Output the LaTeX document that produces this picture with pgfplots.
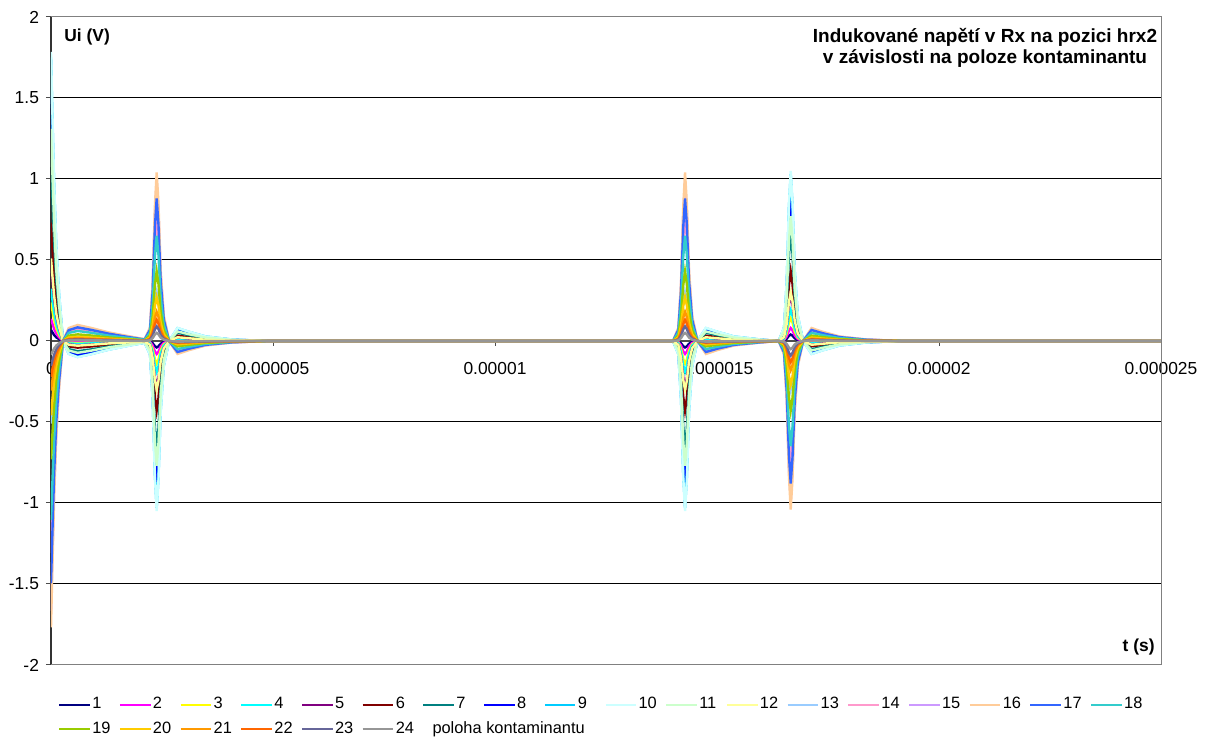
\documentclass[border=0pt]{standalone}
\usepackage{pgfplots}
\pgfplotsset{compat=1.18}
\usepackage{pgfplotstable}
\usepackage{fontspec}
\setmainfont{Liberation Sans}

\definecolor{c1}{HTML}{000080}
\definecolor{c2}{HTML}{FF00FF}
\definecolor{c3}{HTML}{FFFF00}
\definecolor{c4}{HTML}{00FFFF}
\definecolor{c5}{HTML}{800080}
\definecolor{c6}{HTML}{800000}
\definecolor{c7}{HTML}{008080}
\definecolor{c8}{HTML}{0000FF}
\definecolor{c9}{HTML}{00CCFF}
\definecolor{c10}{HTML}{CCFFFF}
\definecolor{c11}{HTML}{CCFFCC}
\definecolor{c12}{HTML}{FFFF99}
\definecolor{c13}{HTML}{99CCFF}
\definecolor{c14}{HTML}{FF99CC}
\definecolor{c15}{HTML}{CC99FF}
\definecolor{c16}{HTML}{FFCC99}
\definecolor{c17}{HTML}{3366FF}
\definecolor{c18}{HTML}{33CCCC}
\definecolor{c19}{HTML}{99CC00}
\definecolor{c20}{HTML}{FFCC00}
\definecolor{c21}{HTML}{FF9900}
\definecolor{c22}{HTML}{FF6600}
\definecolor{c23}{HTML}{666699}
\definecolor{c24}{HTML}{969696}

\pgfplotstableread{
t s1 s2 s3 s4 s5 s6 s7 s8 s9 s10 s11 s12 s13 s14 s15 s16 s17 s18 s19 s20 s21 s22 s23 s24
0 0.068 0.136 0.238 0.323 0.476 0.731 1.122 1.513 1.751 1.785 1.309 0.51 -0.51 -1.309 -1.666 -1.768 -1.496 -1.105 -0.731 -0.459 -0.306 -0.221 -0.153 -0.085
0.03e-6 0.054 0.109 0.19 0.258 0.381 0.585 0.898 1.21 1.401 1.428 1.047 0.408 -0.408 -1.047 -1.333 -1.414 -1.197 -0.884 -0.585 -0.367 -0.245 -0.177 -0.122 -0.068
0.07e-6 0.037 0.075 0.131 0.178 0.262 0.402 0.617 0.832 0.963 0.982 0.72 0.281 -0.281 -0.72 -0.916 -0.972 -0.823 -0.608 -0.402 -0.252 -0.168 -0.122 -0.084 -0.047
0.12e-6 0.022 0.045 0.079 0.107 0.157 0.241 0.37 0.499 0.578 0.589 0.432 0.168 -0.168 -0.432 -0.55 -0.583 -0.494 -0.365 -0.241 -0.151 -0.101 -0.073 -0.05 -0.028
0.18e-6 0.012 0.023 0.04 0.055 0.081 0.124 0.191 0.257 0.298 0.303 0.223 0.087 -0.087 -0.223 -0.283 -0.301 -0.254 -0.188 -0.124 -0.078 -0.052 -0.038 -0.026 -0.014
0.27e-6 0 0 0 0 0 0 0 0 0 0 0 0 0 0 0 0 0 0 0 0 0 0 0 0
0.4e-6 -0.003 -0.006 -0.011 -0.015 -0.021 -0.033 -0.05 -0.068 -0.079 -0.08 -0.059 -0.023 0.023 0.059 0.075 0.08 0.067 0.05 0.033 0.021 0.014 0.01 0.007 0.004
0.6e-6 -0.004 -0.008 -0.013 -0.018 -0.027 -0.041 -0.063 -0.085 -0.098 -0.1 -0.073 -0.029 0.029 0.073 0.093 0.099 0.084 0.062 0.041 0.026 0.017 0.012 0.009 0.005
0.9e-6 -0.003 -0.006 -0.011 -0.015 -0.022 -0.034 -0.052 -0.07 -0.081 -0.082 -0.06 -0.023 0.023 0.06 0.077 0.081 0.069 0.051 0.034 0.021 0.014 0.01 0.007 0.004
1.3e-6 -0.002 -0.004 -0.007 -0.01 -0.014 -0.022 -0.034 -0.045 -0.053 -0.054 -0.039 -0.015 0.015 0.039 0.05 0.053 0.045 0.033 0.022 0.014 0.009 0.007 0.005 0.003
1.8e-6 -0.001 -0.002 -0.004 -0.005 -0.007 -0.011 -0.017 -0.023 -0.026 -0.027 -0.02 -0.008 0.008 0.02 0.025 0.027 0.022 0.017 0.011 0.007 0.005 0.003 0.002 0.001
2.11e-6 0 -0.001 -0.001 -0.002 -0.003 -0.004 -0.007 -0.009 -0.011 -0.011 -0.008 -0.003 0.003 0.008 0.01 0.011 0.009 0.007 0.004 0.003 0.002 0.001 0.001 0.001
2.23e-6 -0.003 -0.006 -0.011 -0.015 -0.022 -0.034 -0.053 -0.071 -0.082 -0.084 -0.062 -0.024 0.024 0.062 0.078 0.083 0.07 0.052 0.034 0.022 0.014 0.01 0.007 0.004
2.29e-6 -0.014 -0.028 -0.049 -0.067 -0.098 -0.151 -0.231 -0.312 -0.361 -0.368 -0.27 -0.105 0.105 0.27 0.343 0.364 0.308 0.228 0.151 0.095 0.063 0.046 0.032 0.018
2.34e-6 -0.032 -0.064 -0.112 -0.152 -0.224 -0.344 -0.528 -0.712 -0.824 -0.84 -0.616 -0.24 0.24 0.616 0.784 0.832 0.704 0.52 0.344 0.216 0.144 0.104 0.072 0.04
2.38e-6 -0.04 -0.08 -0.14 -0.19 -0.28 -0.43 -0.66 -0.89 -1.03 -1.05 -0.77 -0.3 0.3 0.77 0.98 1.04 0.88 0.65 0.43 0.27 0.18 0.13 0.09 0.05
2.42e-6 -0.033 -0.066 -0.115 -0.156 -0.23 -0.353 -0.541 -0.73 -0.845 -0.861 -0.631 -0.246 0.246 0.631 0.804 0.853 0.722 0.533 0.353 0.221 0.148 0.107 0.074 0.041
2.47e-6 -0.017 -0.034 -0.059 -0.08 -0.118 -0.181 -0.277 -0.374 -0.433 -0.441 -0.323 -0.126 0.126 0.323 0.412 0.437 0.37 0.273 0.181 0.113 0.076 0.055 0.038 0.021
2.54e-6 -0.006 -0.012 -0.021 -0.029 -0.042 -0.065 -0.099 -0.134 -0.155 -0.158 -0.116 -0.045 0.045 0.116 0.147 0.156 0.132 0.098 0.065 0.041 0.027 0.02 0.014 0.008
2.66e-6 0 0 0 0 0 0 0 0 0 0 0 0 0 0 0 0 0 0 0 0 0 0 0 0
2.85e-6 0.003 0.006 0.011 0.015 0.022 0.033 0.051 0.069 0.079 0.081 0.059 0.023 -0.023 -0.059 -0.075 -0.08 -0.068 -0.05 -0.033 -0.021 -0.014 -0.01 -0.007 -0.004
3.10e-6 0.002 0.004 0.008 0.01 0.015 0.024 0.036 0.049 0.057 0.058 0.042 0.017 -0.017 -0.042 -0.054 -0.057 -0.048 -0.036 -0.024 -0.015 -0.01 -0.007 -0.005 -0.003
3.48e-6 0.001 0.002 0.004 0.005 0.008 0.012 0.018 0.024 0.028 0.028 0.021 0.008 -0.008 -0.021 -0.026 -0.028 -0.024 -0.018 -0.012 -0.007 -0.005 -0.004 -0.002 -0.001
4.08e-6 0 0.001 0.001 0.002 0.003 0.004 0.006 0.008 0.009 0.009 0.007 0.003 -0.003 -0.007 -0.009 -0.009 -0.008 -0.006 -0.004 -0.002 -0.002 -0.001 -0.001 0
4.88e-6 0 0 0 0 0 0 0 0 0 0 0 0 0 0 0 0 0 0 0 0 0 0 0 0
14.01e-6 0 0 0 0 0 0 0 0 0 0 0 0 0 0 0 0 0 0 0 0 0 0 0 0
14.13e-6 -0.003 -0.006 -0.011 -0.015 -0.022 -0.034 -0.053 -0.071 -0.082 -0.084 -0.062 -0.024 0.024 0.062 0.078 0.083 0.07 0.052 0.034 0.022 0.014 0.01 0.007 0.004
14.19e-6 -0.014 -0.028 -0.049 -0.067 -0.098 -0.151 -0.231 -0.312 -0.361 -0.368 -0.27 -0.105 0.105 0.27 0.343 0.364 0.308 0.228 0.151 0.095 0.063 0.046 0.032 0.018
14.24e-6 -0.032 -0.064 -0.112 -0.152 -0.224 -0.344 -0.528 -0.712 -0.824 -0.84 -0.616 -0.24 0.24 0.616 0.784 0.832 0.704 0.52 0.344 0.216 0.144 0.104 0.072 0.04
14.28e-6 -0.04 -0.08 -0.14 -0.19 -0.28 -0.43 -0.66 -0.89 -1.03 -1.05 -0.77 -0.3 0.3 0.77 0.98 1.04 0.88 0.65 0.43 0.27 0.18 0.13 0.09 0.05
14.32e-6 -0.033 -0.066 -0.115 -0.156 -0.23 -0.353 -0.541 -0.73 -0.845 -0.861 -0.631 -0.246 0.246 0.631 0.804 0.853 0.722 0.533 0.353 0.221 0.148 0.107 0.074 0.041
14.37e-6 -0.017 -0.034 -0.059 -0.08 -0.118 -0.181 -0.277 -0.374 -0.433 -0.441 -0.323 -0.126 0.126 0.323 0.412 0.437 0.37 0.273 0.181 0.113 0.076 0.055 0.038 0.021
14.44e-6 -0.006 -0.012 -0.021 -0.029 -0.042 -0.065 -0.099 -0.134 -0.155 -0.158 -0.116 -0.045 0.045 0.116 0.147 0.156 0.132 0.098 0.065 0.041 0.027 0.02 0.014 0.008
14.56e-6 0 0 0 0 0 0 0 0 0 0 0 0 0 0 0 0 0 0 0 0 0 0 0 0
14.75e-6 0.003 0.006 0.011 0.015 0.022 0.033 0.051 0.069 0.079 0.081 0.059 0.023 -0.023 -0.059 -0.075 -0.08 -0.068 -0.05 -0.033 -0.021 -0.014 -0.01 -0.007 -0.004
15.00e-6 0.002 0.004 0.008 0.01 0.015 0.024 0.036 0.049 0.057 0.058 0.042 0.017 -0.017 -0.042 -0.054 -0.057 -0.048 -0.036 -0.024 -0.015 -0.01 -0.007 -0.005 -0.003
15.38e-6 0.001 0.002 0.004 0.005 0.008 0.012 0.018 0.024 0.028 0.028 0.021 0.008 -0.008 -0.021 -0.026 -0.028 -0.024 -0.018 -0.012 -0.007 -0.005 -0.004 -0.002 -0.001
15.98e-6 0 0.001 0.001 0.002 0.003 0.004 0.006 0.008 0.009 0.009 0.007 0.003 -0.003 -0.007 -0.009 -0.009 -0.008 -0.006 -0.004 -0.002 -0.002 -0.001 -0.001 0
16.39e-6 0 0 0 0 0 0 0 0 0 0 0 0 0 0 0 0 0 0 0 0 0 0 0 0
16.51e-6 0.003 0.006 0.011 0.015 0.022 0.034 0.053 0.071 0.082 0.084 0.062 0.024 -0.024 -0.062 -0.078 -0.083 -0.07 -0.052 -0.034 -0.022 -0.014 -0.01 -0.007 -0.004
16.57e-6 0.014 0.028 0.049 0.067 0.098 0.151 0.231 0.312 0.361 0.368 0.27 0.105 -0.105 -0.27 -0.343 -0.364 -0.308 -0.228 -0.151 -0.095 -0.063 -0.046 -0.032 -0.018
16.62e-6 0.032 0.064 0.112 0.152 0.224 0.344 0.528 0.712 0.824 0.84 0.616 0.24 -0.24 -0.616 -0.784 -0.832 -0.704 -0.52 -0.344 -0.216 -0.144 -0.104 -0.072 -0.04
16.66e-6 0.04 0.08 0.14 0.19 0.28 0.43 0.66 0.89 1.03 1.05 0.77 0.3 -0.3 -0.77 -0.98 -1.04 -0.88 -0.65 -0.43 -0.27 -0.18 -0.13 -0.09 -0.05
16.70e-6 0.033 0.066 0.115 0.156 0.23 0.353 0.541 0.73 0.845 0.861 0.631 0.246 -0.246 -0.631 -0.804 -0.853 -0.722 -0.533 -0.353 -0.221 -0.148 -0.107 -0.074 -0.041
16.75e-6 0.017 0.034 0.059 0.08 0.118 0.181 0.277 0.374 0.433 0.441 0.323 0.126 -0.126 -0.323 -0.412 -0.437 -0.37 -0.273 -0.181 -0.113 -0.076 -0.055 -0.038 -0.021
16.82e-6 0.006 0.012 0.021 0.029 0.042 0.065 0.099 0.134 0.155 0.158 0.116 0.045 -0.045 -0.116 -0.147 -0.156 -0.132 -0.098 -0.065 -0.041 -0.027 -0.02 -0.014 -0.008
16.94e-6 0 0 0 0 0 0 0 0 0 0 0 0 0 0 0 0 0 0 0 0 0 0 0 0
17.13e-6 -0.003 -0.006 -0.011 -0.015 -0.022 -0.033 -0.051 -0.069 -0.079 -0.081 -0.059 -0.023 0.023 0.059 0.075 0.08 0.068 0.05 0.033 0.021 0.014 0.01 0.007 0.004
17.38e-6 -0.002 -0.004 -0.008 -0.01 -0.015 -0.024 -0.036 -0.049 -0.057 -0.058 -0.042 -0.017 0.017 0.042 0.054 0.057 0.048 0.036 0.024 0.015 0.01 0.007 0.005 0.003
17.76e-6 -0.001 -0.002 -0.004 -0.005 -0.008 -0.012 -0.018 -0.024 -0.028 -0.028 -0.021 -0.008 0.008 0.021 0.026 0.028 0.024 0.018 0.012 0.007 0.005 0.004 0.002 0.001
18.36e-6 0 -0.001 -0.001 -0.002 -0.003 -0.004 -0.006 -0.008 -0.009 -0.009 -0.007 -0.003 0.003 0.007 0.009 0.009 0.008 0.006 0.004 0.002 0.002 0.001 0.001 0
19.16e-6 0 0 0 0 0 0 0 0 0 0 0 0 0 0 0 0 0 0 0 0 0 0 0 0
25e-6 0 0 0 0 0 0 0 0 0 0 0 0 0 0 0 0 0 0 0 0 0 0 0 0
}\data

\newcommand{\lgd}[1]{\makebox[10pt][l]{#1}}

\begin{document}
\begin{tikzpicture}
\useasboundingbox (-25.5pt,-36pt) rectangle (582pt,332.5pt);
\begin{axis}[
  name=ax, at={(0,0)}, anchor=south west,
  scale only axis, width=555pt, height=324pt,
  xmin=0, xmax=25e-6, ymin=-2, ymax=2,
  axis x line=middle, axis y line=left,
  every inner x axis line/.append style={-, black!70, line width=0.6pt},
  every outer y axis line/.append style={-, black!80, line width=0.6pt},
  scaled x ticks=false, scaled y ticks=false,
  xtick={0,5e-6,10e-6,15e-6,20e-6,25e-6},
  xticklabels={0,0.000005,0.00001,0.000015,0.00002,0.000025},
  ytick={-2,-1.5,-1,-0.5,0,0.5,1,1.5,2},
  yticklabels={-2,-1.5,-1,-0.5,0,0.5,1,1.5,2},
  hide obscured x ticks=false, hide obscured y ticks=false,
  tick align=outside, major tick length=2.5pt,
  tick style={black!70, line width=0.5pt},
  ymajorgrids, grid style={black, line width=0.5pt},
  tick label style={font=\fontsize{8.7}{10}\selectfont},
  xticklabel style={yshift=-4.5pt},
  every axis plot/.append style={line width=1.2pt},
  legend columns=18,
  legend cell align=left,
  legend image code/.code={\draw[#1, line width=1pt] (0pt,0pt) -- (15.3pt,0pt);},
  legend style={draw=none, fill=none, at={(0,0)}, anchor=north west,
    xshift=3.4pt, yshift=-15.3pt, inner sep=0pt,
    font=\fontsize{8.2}{9}\selectfont, nodes={inner sep=0.75pt},
    row sep=3.5pt,
    /tikz/every even column/.append style={column sep=2.55pt}},
]
\addplot[c1] table[x=t,y=s1]{\data}; \addlegendentry{\lgd{1}}
\addplot[c2] table[x=t,y=s2]{\data}; \addlegendentry{\lgd{2}}
\addplot[c3] table[x=t,y=s3]{\data}; \addlegendentry{\lgd{3}}
\addplot[c4] table[x=t,y=s4]{\data}; \addlegendentry{\lgd{4}}
\addplot[c5] table[x=t,y=s5]{\data}; \addlegendentry{\lgd{5}}
\addplot[c6] table[x=t,y=s6]{\data}; \addlegendentry{\lgd{6}}
\addplot[c7] table[x=t,y=s7]{\data}; \addlegendentry{\lgd{7}}
\addplot[c8] table[x=t,y=s8]{\data}; \addlegendentry{\lgd{8}}
\addplot[c9] table[x=t,y=s9]{\data}; \addlegendentry{\lgd{9}}
\addplot[c10] table[x=t,y=s10]{\data}; \addlegendentry{\lgd{10}}
\addplot[c11] table[x=t,y=s11]{\data}; \addlegendentry{\lgd{11}}
\addplot[c12] table[x=t,y=s12]{\data}; \addlegendentry{\lgd{12}}
\addplot[c13] table[x=t,y=s13]{\data}; \addlegendentry{\lgd{13}}
\addplot[c14] table[x=t,y=s14]{\data}; \addlegendentry{\lgd{14}}
\addplot[c15] table[x=t,y=s15]{\data}; \addlegendentry{\lgd{15}}
\addplot[c16] table[x=t,y=s16]{\data}; \addlegendentry{\lgd{16}}
\addplot[c17] table[x=t,y=s17]{\data}; \addlegendentry{\lgd{17}}
\addplot[c18] table[x=t,y=s18]{\data}; \addlegendentry{\lgd{18}}
\addplot[c19] table[x=t,y=s19]{\data}; \addlegendentry{\lgd{19}}
\addplot[c20] table[x=t,y=s20]{\data}; \addlegendentry{\lgd{20}}
\addplot[c21] table[x=t,y=s21]{\data}; \addlegendentry{\lgd{21}}
\addplot[c22] table[x=t,y=s22]{\data}; \addlegendentry{\lgd{22}}
\addplot[c23] table[x=t,y=s23]{\data}; \addlegendentry{\lgd{23}}
\addplot[c24] table[x=t,y=s24]{\data}; \addlegendentry{\lgd{24}}
\addlegendimage{empty legend}
\addlegendentry{\makebox[0pt][l]{\hspace{-12pt}poloha kontaminantu}}
\node[anchor=west, inner sep=0pt, xshift=6.5pt, yshift=-10pt,
  font=\bfseries\fontsize{8.7}{10}\selectfont] at (rel axis cs:0,1) {Ui (V)};
\node[anchor=center, align=center, inner sep=0pt, xshift=467pt, yshift=-15.5pt,
  font=\bfseries\fontsize{9.5}{10.5}\selectfont] at (rel axis cs:0,1)
  {Indukované napětí v Rx na pozici hrx2\\v závislosti na poloze kontaminantu};
\node[anchor=east, inner sep=0pt, xshift=-3pt, yshift=9pt,
  font=\bfseries\fontsize{8.7}{10}\selectfont] at (rel axis cs:1,0) {t (s)};
\end{axis}
\draw[black!50, line width=0.5pt] (ax.north west) -- (ax.north east) -- (ax.south east) -- (ax.south west);
\end{tikzpicture}
\end{document}
